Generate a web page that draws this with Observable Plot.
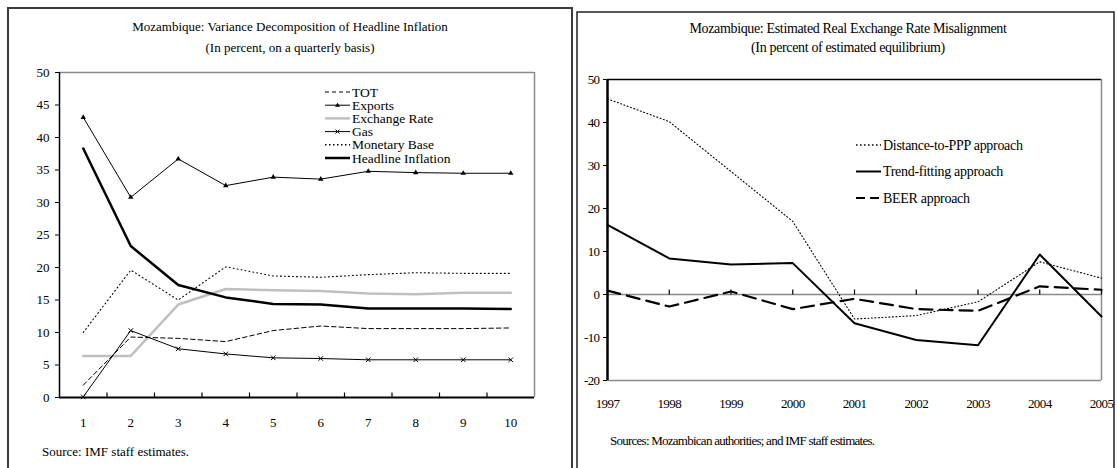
<!DOCTYPE html>
<html><head><meta charset="utf-8">
<script src="https://cdn.jsdelivr.net/npm/d3@7"></script>
<script src="https://cdn.jsdelivr.net/npm/@observablehq/plot@0.6"></script>
<style>
html,body{margin:0;padding:0;background:#fff;}
body{width:1117px;height:468px;overflow:hidden;position:relative;font-family:"Liberation Serif","Times New Roman",serif;}
svg text{font-family:"Liberation Serif","Times New Roman",serif !important;}
.abs{position:absolute;left:0;top:0;}
</style></head><body>
<script>
// ---------- Left chart data ----------
const quarters = [1,2,3,4,5,6,7,8,9,10];
const tot          = [1.9, 9.3, 9.1, 8.6, 10.3, 11.0, 10.6, 10.6, 10.6, 10.7];
const exportsS     = [43.1, 30.8, 36.7, 32.6, 33.9, 33.6, 34.8, 34.6, 34.5, 34.5];
const exchangeRate = [6.4, 6.4, 14.3, 16.7, 16.5, 16.4, 16.0, 15.9, 16.1, 16.1];
const gas          = [0.1, 10.3, 7.5, 6.7, 6.1, 6.0, 5.8, 5.8, 5.8, 5.8];
const monetaryBase = [10.0, 19.6, 15.0, 20.1, 18.7, 18.5, 18.9, 19.2, 19.1, 19.1];
const headline     = [38.3, 23.3, 17.3, 15.4, 14.4, 14.3, 13.7, 13.7, 13.7, 13.6];
const leftYTicks = [0,5,10,15,20,25,30,35,40,45,50];
const leftLegend = ["TOT","Exports","Exchange Rate","Gas","Monetary Base","Headline Inflation"];

// ---------- Right chart data ----------
const years = [1997,1998,1999,2000,2001,2002,2003,2004,2005];
const distancePPP  = [45.5, 40.2, 28.6, 17.0, -5.7, -4.9, -1.7, 7.6, 3.8];
const trendFitting = [16.2, 8.4, 7.0, 7.3, -6.7, -10.6, -11.8, 9.3, -5.1];
const beer         = [0.9, -2.8, 0.7, -3.4, -1.0, -3.4, -3.8, 1.9, 1.1];
const rightYTicks = [-20,-10,0,10,20,30,40,50];
const rightLegend = ["Distance-to-PPP approach","Trend-fitting approach","BEER approach"];

const serif = '"Liberation Serif","Times New Roman",serif';
const rows = (xs, ys) => xs.map((x, i) => ({x, y: ys[i]}));
const tickUp = {draw(ctx){ ctx.moveTo(0,0); ctx.lineTo(0,-5); }};

// ---------- Background overlay (panels, titles, legends, sources) ----------
const bg = d3.select("body").append("svg").attr("class","abs")
  .attr("width",1117).attr("height",468).style("font-family",serif);
bg.append("rect").attr("x",8).attr("y",8).attr("width",564).attr("height",490)
  .attr("fill","none").attr("stroke","#3a3a3a").attr("stroke-width",2);
bg.append("rect").attr("x",577).attr("y",12).attr("width",537).attr("height",490)
  .attr("fill","none").attr("stroke","#222").attr("stroke-width",1.5);

const lt = bg.append("g").attr("font-size",13).attr("text-anchor","middle");
lt.append("text").attr("x",290).attr("y",31).text("Mozambique: Variance Decomposition of Headline Inflation");
lt.append("text").attr("x",290).attr("y",52).text("(In percent, on a quarterly basis)");
bg.append("text").attr("x",42).attr("y",456).attr("font-size",13).text("Source: IMF staff estimates.");

const rt = bg.append("g").attr("font-size",14).attr("text-anchor","middle").attr("letter-spacing","-0.35px");
rt.append("text").attr("x",848).attr("y",33).text("Mozambique: Estimated Real Exchange Rate Misalignment");
rt.append("text").attr("x",848).attr("y",52).text("(In percent of estimated equilibrium)");
bg.append("text").attr("x",610).attr("y",445).attr("font-size",13).attr("letter-spacing","-0.75px")
  .text("Sources: Mozambican authorities; and IMF staff estimates.");

// left legend
const leftStyles = [
  {stroke:"#000", w:1, dash:"4,3"},
  {stroke:"#000", w:1, dash:null, marker:"tri"},
  {stroke:"#c0c0c0", w:2.5, dash:null},
  {stroke:"#000", w:1, dash:null, marker:"x"},
  {stroke:"#000", w:1.6, dash:"1.5,2.5"},
  {stroke:"#000", w:2.5, dash:null}
];
const ll = bg.append("g").attr("font-size",13.5);
leftLegend.forEach((name,i) => {
  const y = 92 + i*13.2, s = leftStyles[i];
  ll.append("line").attr("x1",325).attr("x2",350).attr("y1",y).attr("y2",y)
    .attr("stroke",s.stroke).attr("stroke-width",s.w).attr("stroke-dasharray",s.dash);
  if (s.marker === "tri") ll.append("path").attr("d",`M337.5,${y-2.5}L340,${y+1.5}L335,${y+1.5}Z`).attr("fill","#000");
  if (s.marker === "x") ll.append("path").attr("d",`M335.5,${y-2}L339.5,${y+2}M339.5,${y-2}L335.5,${y+2}`).attr("stroke","#000").attr("stroke-width",1);
  ll.append("text").attr("x",352).attr("y",y+4.5).text(name);
});
// right legend
const rightStyles = [
  {w:1.6, dash:"1.5,2.5"},
  {w:2, dash:null},
  {w:2.2, dash:"9,5"}
];
const rl = bg.append("g").attr("font-size",14).attr("letter-spacing","-0.3px");
rightLegend.forEach((name,i) => {
  const y = 145 + i*26.5, s = rightStyles[i];
  rl.append("line").attr("x1",856).attr("x2",881).attr("y1",y).attr("y2",y)
    .attr("stroke","#000").attr("stroke-width",s.w).attr("stroke-dasharray",s.dash);
  rl.append("text").attr("x",883).attr("y",y+4.8).text(name);
});

// ---------- Left Plot ----------
const boundaries = quarters.slice(0,-1).map(q => q + 0.5);
const left = Plot.plot({
  width: 575, height: 468,
  marginLeft: 59, marginRight: 41, marginTop: 72, marginBottom: 71,
  x: {domain: [0.5, 10.5]},
  y: {domain: [0, 50]},
  style: {background: "transparent", fontFamily: serif, fontSize: "13px", color: "#000", overflow: "visible"},
  marks: [
    Plot.ruleY([50], {stroke: "#8a8a8a", strokeWidth: 1.5}),
    Plot.ruleX([10.5], {stroke: "#8a8a8a", strokeWidth: 1.5}),
    Plot.line(rows(quarters, exchangeRate), {x:"x", y:"y", stroke:"#c0c0c0", strokeWidth:2.5}),
    Plot.line(rows(quarters, monetaryBase), {x:"x", y:"y", stroke:"#000", strokeWidth:1.1, strokeDasharray:"1,3"}),
    Plot.line(rows(quarters, tot), {x:"x", y:"y", stroke:"#000", strokeWidth:1, strokeDasharray:"4.5,3"}),
    Plot.line(rows(quarters, gas), {x:"x", y:"y", stroke:"#000", strokeWidth:1}),
    Plot.dot(rows(quarters, gas), {x:"x", y:"y", symbol:"times", r:2.2, stroke:"#000", strokeWidth:1}),
    Plot.line(rows(quarters, exportsS), {x:"x", y:"y", stroke:"#000", strokeWidth:1}),
    Plot.dot(rows(quarters, exportsS), {x:"x", y:"y", symbol:"triangle", r:2, fill:"#000", stroke:null}),
    Plot.line(rows(quarters, headline), {x:"x", y:"y", stroke:"#000", strokeWidth:2.5}),
    Plot.ruleX([0.5], {stroke:"#000", strokeWidth:1.5}),
    Plot.ruleY([0], {stroke:"#000", strokeWidth:2}),
    Plot.dot(boundaries, {x: d => d, y: 0, symbol: tickUp, stroke:"#000", strokeWidth:1.2, fill:null}),
    Plot.axisY({ticks: leftYTicks, tickSize: 4, tickPadding: 6, label: null, tickFormat: d => d}),
    Plot.axisX({ticks: quarters, tickSize: 0, tickPadding: 20, label: null, tickFormat: d => d})
  ]
});
left.style.position = "absolute"; left.style.left = "0px"; left.style.top = "0px";
document.body.appendChild(left);

// ---------- Right Plot ----------
const right = Plot.plot({
  width: 557, height: 468,
  marginLeft: 47, marginRight: 16, marginTop: 79, marginBottom: 88,
  x: {domain: [1997, 2005]},
  y: {domain: [-20, 50]},
  style: {background: "transparent", fontFamily: serif, fontSize: "13px", letterSpacing: "-0.6px", color: "#000", overflow: "visible"},
  marks: [
    Plot.ruleY([50], {stroke:"#000", strokeWidth:1.5}),
    Plot.ruleX([2005], {stroke:"#8a8a8a", strokeWidth:1.5}),
    Plot.ruleY([-20], {stroke:"#8a8a8a", strokeWidth:1.5}),
    Plot.ruleY([0], {stroke:"#8a8a8a", strokeWidth:1.3}),
    Plot.dot(years.slice(1), {x: d => d, y: 0, symbol: tickUp, stroke:"#000", strokeWidth:1.2, fill:null}),
    Plot.line(rows(years, distancePPP), {x:"x", y:"y", stroke:"#000", strokeWidth:1.1, strokeDasharray:"1,2.5"}),
    Plot.line(rows(years, beer), {x:"x", y:"y", stroke:"#000", strokeWidth:2.2, strokeDasharray:"13,7"}),
    Plot.line(rows(years, trendFitting), {x:"x", y:"y", stroke:"#000", strokeWidth:2}),
    Plot.ruleX([1997], {stroke:"#000", strokeWidth:2.5}),
    Plot.axisY({ticks: rightYTicks, tickSize: 4, tickPadding: 4, label: null, tickFormat: d => d}),
    Plot.axisX({ticks: years, tickSize: 0, tickPadding: 18, label: null, tickFormat: d => String(d)})
  ]
});
right.style.position = "absolute"; right.style.left = "560px"; right.style.top = "0px";
document.body.appendChild(right);
</script>
</body></html>
